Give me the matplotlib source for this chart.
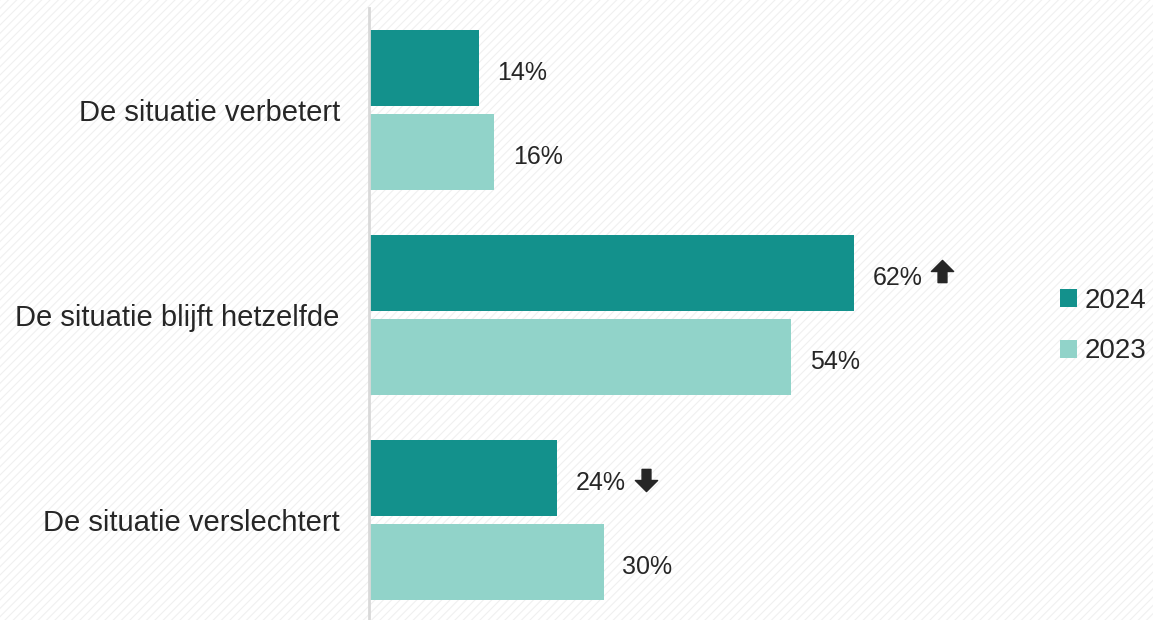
import matplotlib.pyplot as plt
import matplotlib.patches as mpatches
from matplotlib.path import Path
import numpy as np

plt.rcParams['font.family'] = ['Liberation Sans', 'DejaVu Sans']
plt.rcParams['hatch.linewidth'] = 0.8

categories = ['De situatie verbetert', 'De situatie blijft hetzelfde', 'De situatie verslechtert']
values_2024 = [14, 62, 24]
values_2023 = [16, 54, 30]
trend_2024 = ['', 'up', 'down']

color_2024 = '#13918c'
color_2023 = '#91d3c9'
text_color = '#262626'

# pijl-markers (blokpijl)
up_verts = [(-0.5, 0.0), (0.0, 0.5), (0.5, 0.0), (0.2, 0.0), (0.2, -0.5),
            (-0.2, -0.5), (-0.2, 0.0), (-0.5, 0.0)]
up_arrow = Path(up_verts, closed=True)
down_arrow = Path([(vx, -vy) for vx, vy in up_verts], closed=True)

fig = plt.figure(figsize=(11.53, 6.2), dpi=100)

# lichte diagonale achtergrond
bg = mpatches.Rectangle((0, 0), 1, 1, transform=fig.transFigure, facecolor='white',
                        edgecolor='#f0f0f0', hatch='////', linewidth=0, zorder=-10)
fig.patches.append(bg)

ax = fig.add_axes([369 / 1153, 0.0, 665 / 1153, 612.5 / 620])
ax.patch.set_alpha(0)

y = np.arange(len(categories))
h = 0.37
off = 0.205
ax.barh(y - off, values_2024, height=h, color=color_2024, label='2024')
ax.barh(y + off, values_2023, height=h, color=color_2023, label='2023')

for i in range(len(categories)):
    ax.text(values_2024[i] + 2.4, y[i] - off + 0.01, f'{values_2024[i]}%', va='center_baseline',
            ha='left', fontsize=18, color=text_color)
    ax.text(values_2023[i] + 2.4, y[i] + off + 0.01, f'{values_2023[i]}%', va='center_baseline',
            ha='left', fontsize=18, color=text_color)
    if trend_2024[i] == 'up':
        ax.plot(values_2024[i] + 11.3, y[i] - off - 0.01, marker=up_arrow, markersize=16,
                color=text_color, linestyle='none', clip_on=False)
    elif trend_2024[i] == 'down':
        ax.plot(values_2024[i] + 11.4, y[i] - off + 0.01, marker=down_arrow, markersize=16,
                color=text_color, linestyle='none', clip_on=False)

ax.set_xlim(0, 85)
ax.set_ylim(2 + 100 / 205, -0.5)
ax.set_yticks(y)
ax.set_yticklabels(categories, fontsize=21, color=text_color)
ax.tick_params(axis='y', length=0, pad=21)
ax.set_xticks([])

for s in ['top', 'right', 'bottom']:
    ax.spines[s].set_visible(False)
ax.spines['left'].set_color('#d9d9d9')
ax.spines['left'].set_linewidth(2)

handles, labels = ax.get_legend_handles_labels()
leg = fig.legend(handles, labels, loc='center left', bbox_to_anchor=(1060 / 1153, 1 - 326 / 620),
                 frameon=False, borderaxespad=0, borderpad=0,
                 fontsize=20, handlelength=0.6, handleheight=0.6, handletextpad=0.3,
                 labelspacing=0.9, labelcolor=text_color)

plt.savefig('out.png', dpi=100)
